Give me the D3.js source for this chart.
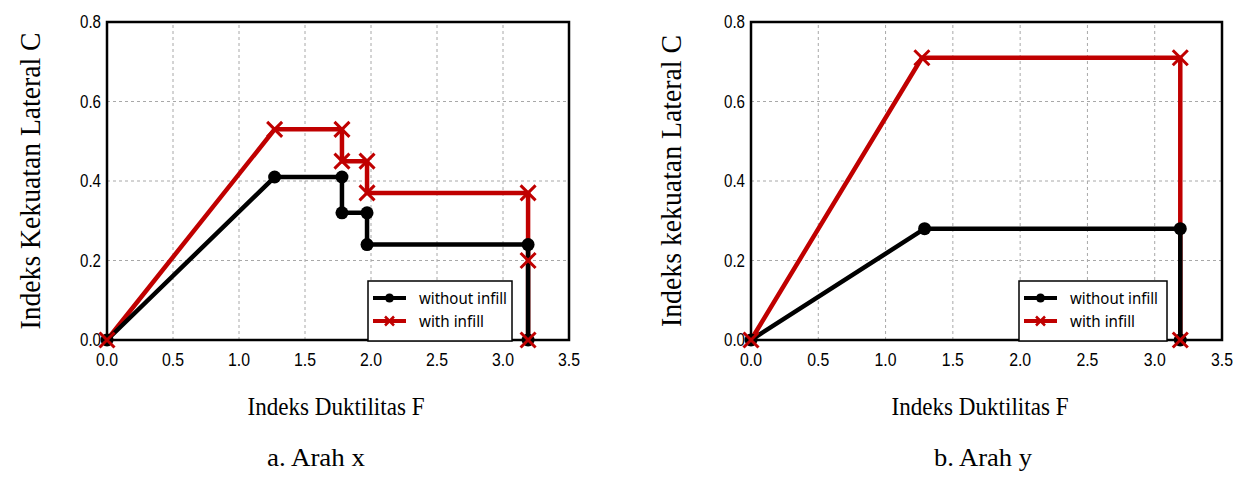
<!DOCTYPE html>
<html>
<head>
<meta charset="utf-8">
<script src="https://cdn.jsdelivr.net/npm/d3@7"></script>
<style>
  body { margin: 0; background: #fff; }
  svg { display: block; }
  .tick-label { font-family: 'Liberation Sans', Arial, sans-serif; font-size: 18px; fill: #000; }
  .title { font-family: 'Liberation Serif', 'Times New Roman', serif; fill: #000; }
  .legend-text { font-family: 'Noto Sans', sans-serif; font-size: 16.5px; fill: #000; }
</style>
</head>
<body>
<svg id="chart" width="1250" height="485"></svg>
<script>
// tick values
const xTicks = [0.0, 0.5, 1.0, 1.5, 2.0, 2.5, 3.0, 3.5];
const yTicks = [0.0, 0.2, 0.4, 0.6, 0.8];

// a. Arah x
const aWithoutF = [0, 1.27, 1.78, 1.78, 1.97, 1.97, 3.19, 3.19];
const aWithoutC = [0, 0.41, 0.41, 0.32, 0.32, 0.24, 0.24, 0.0];
const aWithF = [0, 1.27, 1.78, 1.78, 1.97, 1.97, 3.19, 3.19, 3.19];
const aWithC = [0, 0.53, 0.53, 0.45, 0.45, 0.37, 0.37, 0.20, 0.0];

// b. Arah y
const bWithoutF = [0, 1.29, 3.19, 3.19];
const bWithoutC = [0, 0.28, 0.28, 0.0];
const bWithF = [0, 1.27, 3.19, 3.19];
const bWithC = [0, 0.71, 0.71, 0.0];

const seriesNames = ['without infill', 'with infill'];
const RED = '#c00000';

const svg = d3.select('#chart');

function zip(fs, cs) {
    return fs.map((f, i) => ({ f: f, c: cs[i] }));
}

function drawPanel(opts) {
    const x = d3.scaleLinear().domain([0, 3.5]).range([opts.left, opts.right]);
    const y = d3.scaleLinear().domain([0, 0.8]).range([340, 22]);
    const g = svg.append('g');

    // grid
    g.selectAll('.vgrid')
        .data(xTicks.slice(1, -1))
        .enter().append('line')
        .attr('x1', d => x(d)).attr('x2', d => x(d))
        .attr('y1', y(0)).attr('y2', y(0.8))
        .attr('stroke', '#a8a8a8').attr('stroke-width', 1)
        .attr('stroke-dasharray', '3,3');
    g.selectAll('.hgrid')
        .data(yTicks.slice(1, -1))
        .enter().append('line')
        .attr('x1', x(0)).attr('x2', x(3.5))
        .attr('y1', d => y(d)).attr('y2', d => y(d))
        .attr('stroke', '#a8a8a8').attr('stroke-width', 1)
        .attr('stroke-dasharray', '3,3');

    // frame
    g.append('rect')
        .attr('x', x(0)).attr('y', y(0.8))
        .attr('width', x(3.5) - x(0)).attr('height', y(0) - y(0.8))
        .attr('fill', 'none').attr('stroke', '#000').attr('stroke-width', 2.5);

    // tick labels (narrow look)
    g.selectAll('.xl')
        .data(xTicks)
        .enter().append('text')
        .attr('class', 'tick-label')
        .attr('x', d => x(d)).attr('y', 366)
        .attr('text-anchor', 'middle')
        .attr('textLength', 22).attr('lengthAdjust', 'spacingAndGlyphs')
        .text(d => d3.format('.1f')(d));
    g.selectAll('.yl')
        .data(yTicks)
        .enter().append('text')
        .attr('class', 'tick-label')
        .attr('x', x(0) - 6).attr('y', d => y(d))
        .attr('dy', '0.35em')
        .attr('text-anchor', 'end')
        .attr('textLength', 21).attr('lengthAdjust', 'spacingAndGlyphs')
        .text(d => d3.format('.1f')(d));

    // legend (drawn under the curves, over the axis)
    const lg = g.append('g');
    lg.append('rect')
        .attr('x', opts.legX).attr('y', 281)
        .attr('width', opts.legW).attr('height', 60)
        .attr('fill', '#fff').attr('stroke', '#000').attr('stroke-width', 1.5);

    const line = d3.line().x(d => x(d.f)).y(d => y(d.c));
    const without = zip(opts.withoutF, opts.withoutC);
    const withIn = zip(opts.withF, opts.withC);

    g.append('path').datum(withIn)
        .attr('d', line).attr('fill', 'none')
        .attr('stroke', RED).attr('stroke-width', 4.5);
    g.append('path').datum(without)
        .attr('d', line).attr('fill', 'none')
        .attr('stroke', '#000').attr('stroke-width', 4.5);

    g.selectAll('.dot')
        .data(without)
        .enter().append('circle')
        .attr('cx', d => x(d.f)).attr('cy', d => y(d.c))
        .attr('r', 6.5).attr('fill', '#000');

    g.selectAll('.cross')
        .data(withIn)
        .enter().append('path')
        .attr('transform', d => `translate(${x(d.f)},${y(d.c)})`)
        .attr('d', 'M-7.5,-7.5L7.5,7.5M-7.5,7.5L7.5,-7.5')
        .attr('stroke', RED).attr('stroke-width', 3).attr('fill', 'none');

    // legend entries
    const rows = [
        { name: seriesNames[0], color: '#000', cy: 298, kind: 'dot', len: 88 },
        { name: seriesNames[1], color: RED, cy: 321, kind: 'x', len: 65 }
    ];
    rows.forEach(r => {
        const lx = opts.legX + 5;
        lg.append('line')
            .attr('x1', lx).attr('x2', lx + 33)
            .attr('y1', r.cy).attr('y2', r.cy)
            .attr('stroke', r.color).attr('stroke-width', 4);
        if (r.kind === 'dot') {
            lg.append('circle').attr('cx', lx + 16.5).attr('cy', r.cy).attr('r', 4.5).attr('fill', r.color);
        } else {
            lg.append('path')
                .attr('transform', `translate(${lx + 16.5},${r.cy})`)
                .attr('d', 'M-4.5,-4.5L4.5,4.5M-4.5,4.5L4.5,-4.5')
                .attr('stroke', r.color).attr('stroke-width', 2.5);
        }
        lg.append('text')
            .attr('class', 'legend-text')
            .attr('x', opts.legX + 51).attr('y', r.cy + 6)
            .attr('textLength', r.len).attr('lengthAdjust', 'spacingAndGlyphs')
            .text(r.name);
    });

    // titles
    g.append('text')
        .attr('class', 'title')
        .attr('transform', `translate(${opts.yTitleX},181) rotate(-90)`)
        .attr('text-anchor', 'middle')
        .attr('font-size', 29)
        .attr('textLength', opts.yTitleLen).attr('lengthAdjust', 'spacingAndGlyphs')
        .text(opts.yTitle);
    g.append('text')
        .attr('class', 'title')
        .attr('x', opts.xTitleX).attr('y', 415)
        .attr('text-anchor', 'middle')
        .attr('font-size', 25.5)
        .attr('textLength', 177).attr('lengthAdjust', 'spacingAndGlyphs')
        .text('Indeks Duktilitas F');
    g.append('text')
        .attr('class', 'title')
        .attr('x', opts.capX).attr('y', 466)
        .attr('text-anchor', 'middle')
        .attr('font-size', 25.5)
        .attr('textLength', 98).attr('lengthAdjust', 'spacingAndGlyphs')
        .text(opts.caption);
}

drawPanel({
    left: 107, right: 569,
    withoutF: aWithoutF, withoutC: aWithoutC, withF: aWithF, withC: aWithC,
    legX: 368, legW: 144,
    yTitle: 'Indeks Kekuatan Lateral  C', yTitleX: 40, yTitleLen: 297,
    xTitleX: 336, capX: 316, caption: 'a. Arah x'
});

drawPanel({
    left: 751, right: 1222,
    withoutF: bWithoutF, withoutC: bWithoutC, withF: bWithF, withC: bWithC,
    legX: 1019, legW: 148,
    yTitle: 'Indeks kekuatan Lateral C', yTitleX: 681, yTitleLen: 292,
    xTitleX: 980, capX: 983, caption: 'b. Arah y'
});
</script>
</body>
</html>
